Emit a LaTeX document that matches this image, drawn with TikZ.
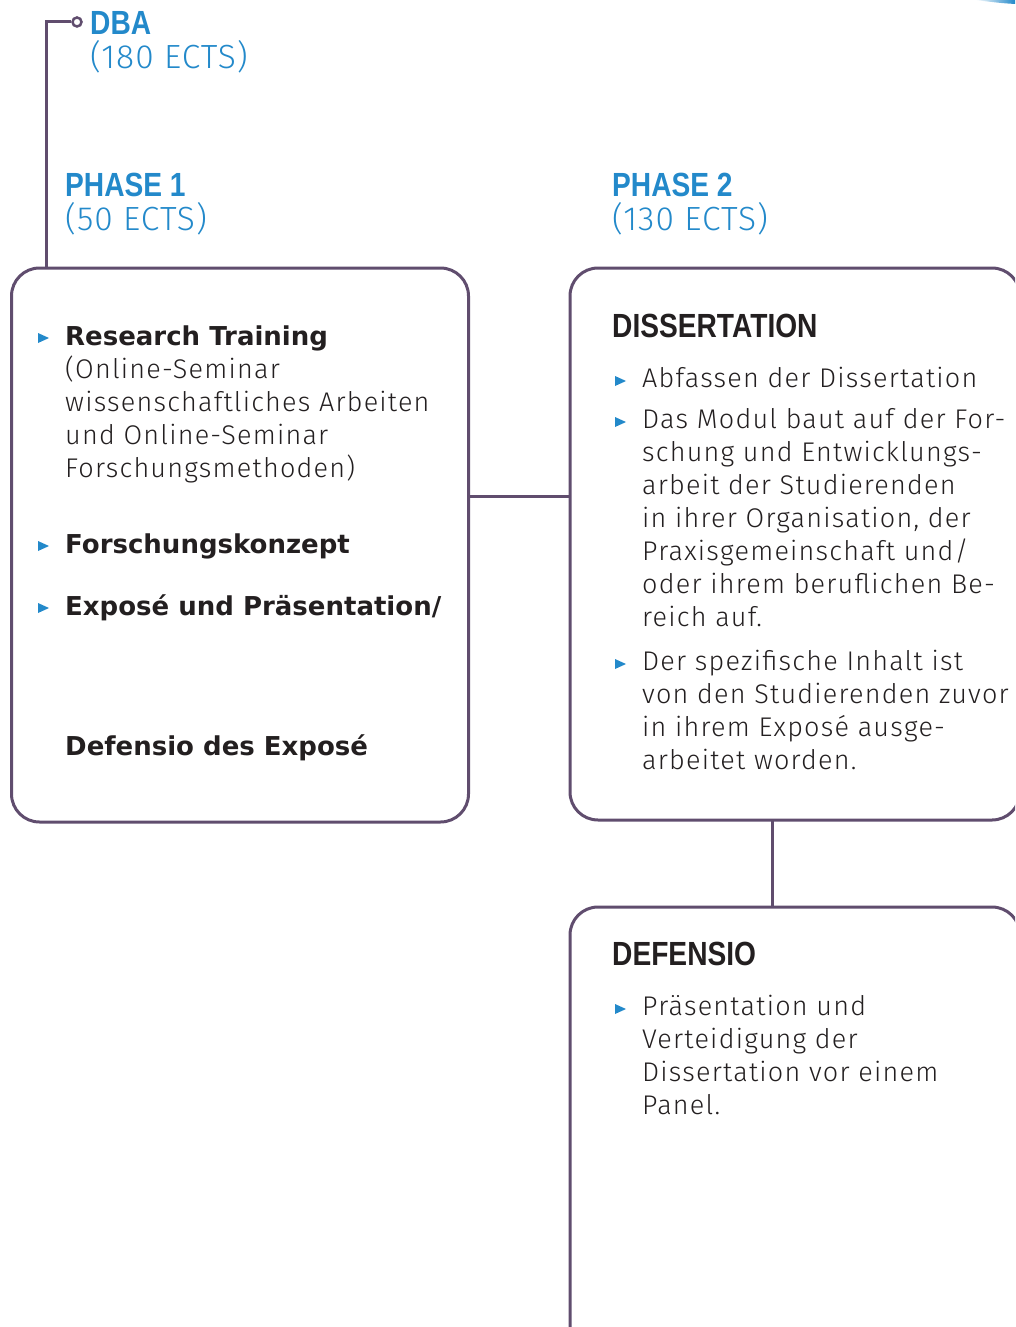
\documentclass[tikz,border=0pt]{standalone}
\usepackage{fontspec}
\setmainfont{Fira Sans Light}[LetterSpace=4.5]
\newfontfamily\boldfont{DejaVu Sans Bold}
\newfontfamily\headfont{Liberation Sans Bold}[FakeStretch=0.84]
\newfontfamily\ectsfont{Fira Sans Light}[LetterSpace=3]

\definecolor{dbablue}{RGB}{35,137,202}
\definecolor{frame}{RGB}{96,77,110}
\definecolor{ink}{RGB}{35,31,32}

\newcommand\lines[1]{\begin{tabular}[t]{@{}l@{}}#1\end{tabular}}

\tikzset{
  box/.style={draw=frame, line width=3pt, rounded corners=28pt, inner sep=0pt},
  link/.style={draw=frame, line width=3pt},
  head/.style={anchor=base west, inner sep=0pt, font=\headfont\fontsize{33.5}{34}\selectfont},
  ects/.style={anchor=base west, inner sep=0pt, text=dbablue, font=\ectsfont\fontsize{33.5}{34}\selectfont},
  txt/.style={anchor=base west, inner sep=0pt, text=ink, font=\fontsize{27}{33}\selectfont},
  bold/.style={txt, font=\boldfont\fontsize{26}{33}\selectfont}
}

\begin{document}
\begin{tikzpicture}[x=1pt, y=-1pt]
    \useasboundingbox (0,0) rectangle (1015,1327);
    \clip (0,0) rectangle (1015,1327);

    % corner sliver
    \shade[left color=white, right color=dbablue] (975,0) -- (1015,0) -- (1015,4) .. controls (1000,3) .. (975,0) -- cycle;

    % DBA
    \node[draw=frame, line width=2.5pt, circle, minimum size=9pt, inner sep=0pt] (dot) at (77,22) {};
    \coordinate (root) at (46,22);
    \node[head, text=dbablue] (dba) at (90,35) {DBA};
    \node[ects] (dbaects) at (90,69) {(180 ECTS)};

    % Phase headers
    \node[head, text=dbablue] (ph1) at (65,196) {PHASE 1};
    \node[ects] (ph1ects) at (65,230) {(50 ECTS)};
    \node[head, text=dbablue] (ph2) at (612,196) {PHASE 2};
    \node[ects] (ph2ects) at (612,230) {(130 ECTS)};

    % Boxes
    \node[box, minimum width=457pt, minimum height=554pt] (p1) at (240,545) {};
    \node[box, minimum width=450pt, minimum height=552pt] (diss) at (795,544) {};
    \node[box, minimum width=450pt, minimum height=454pt] (defbox) at (795,1134) {};

    % Connectors
    \draw[link] (dot.west) -- (root) -- (root |- p1.north);
    \coordinate (j1) at (469,496);
    \draw[link] (j1) -- (j1 -| diss.west);
    \coordinate (j2) at (772,820);
    \draw[link] (j2) -- (j2 |- defbox.north);

    % Phase 1 contents
    \node[bold] (rt) at (65,345) {Research Training};
    \node[txt] (rtdesc) at (65,378) {\lines{(Online-Seminar\\wissenschaftliches Arbeiten\\und Online-Seminar\\Forschungsmethoden)}};
    \node[bold] (fk) at (65,553) {Forschungskonzept};
    \node[bold] (ep) at (65,615) {Exposé und Präsentation/};
    \node[bold] (dd) at (65,755) {Defensio des Exposé};

    % Dissertation contents
    \node[head, text=ink] (disshead) at (612,337) {DISSERTATION};
    \node[txt] (d1) at (642,387) {Abfassen der Dissertation};
    \node[txt] (d2) at (642,428) {\lines{Das Modul baut auf der For-\\schung und Entwicklungs-\\arbeit der Studierenden\\in ihrer Organisation, der\\Praxisgemeinschaft und/\\oder ihrem beruflichen Be-\\reich auf.}};
    \node[txt] (d3) at (642,670) {\lines{Der spezifische Inhalt ist\\von den Studierenden zuvor\\in ihrem Exposé ausge-\\arbeitet worden.}};

    % Defensio contents
    \node[head, text=ink] (defhead) at (612,965) {DEFENSIO};
    \node[txt] (f1) at (642,1015) {\lines{Präsentation und\\Verteidigung der\\Dissertation vor einem\\Panel.}};

    % bullets
    \foreach \x/\y in {38/338, 38/546, 38/608, 615/381, 615/422, 615/664, 615/1009}
        \fill[dbablue] (\x,\y-5) -- ++(11,5) -- ++(-11,5) -- cycle;
\end{tikzpicture}
\end{document}
